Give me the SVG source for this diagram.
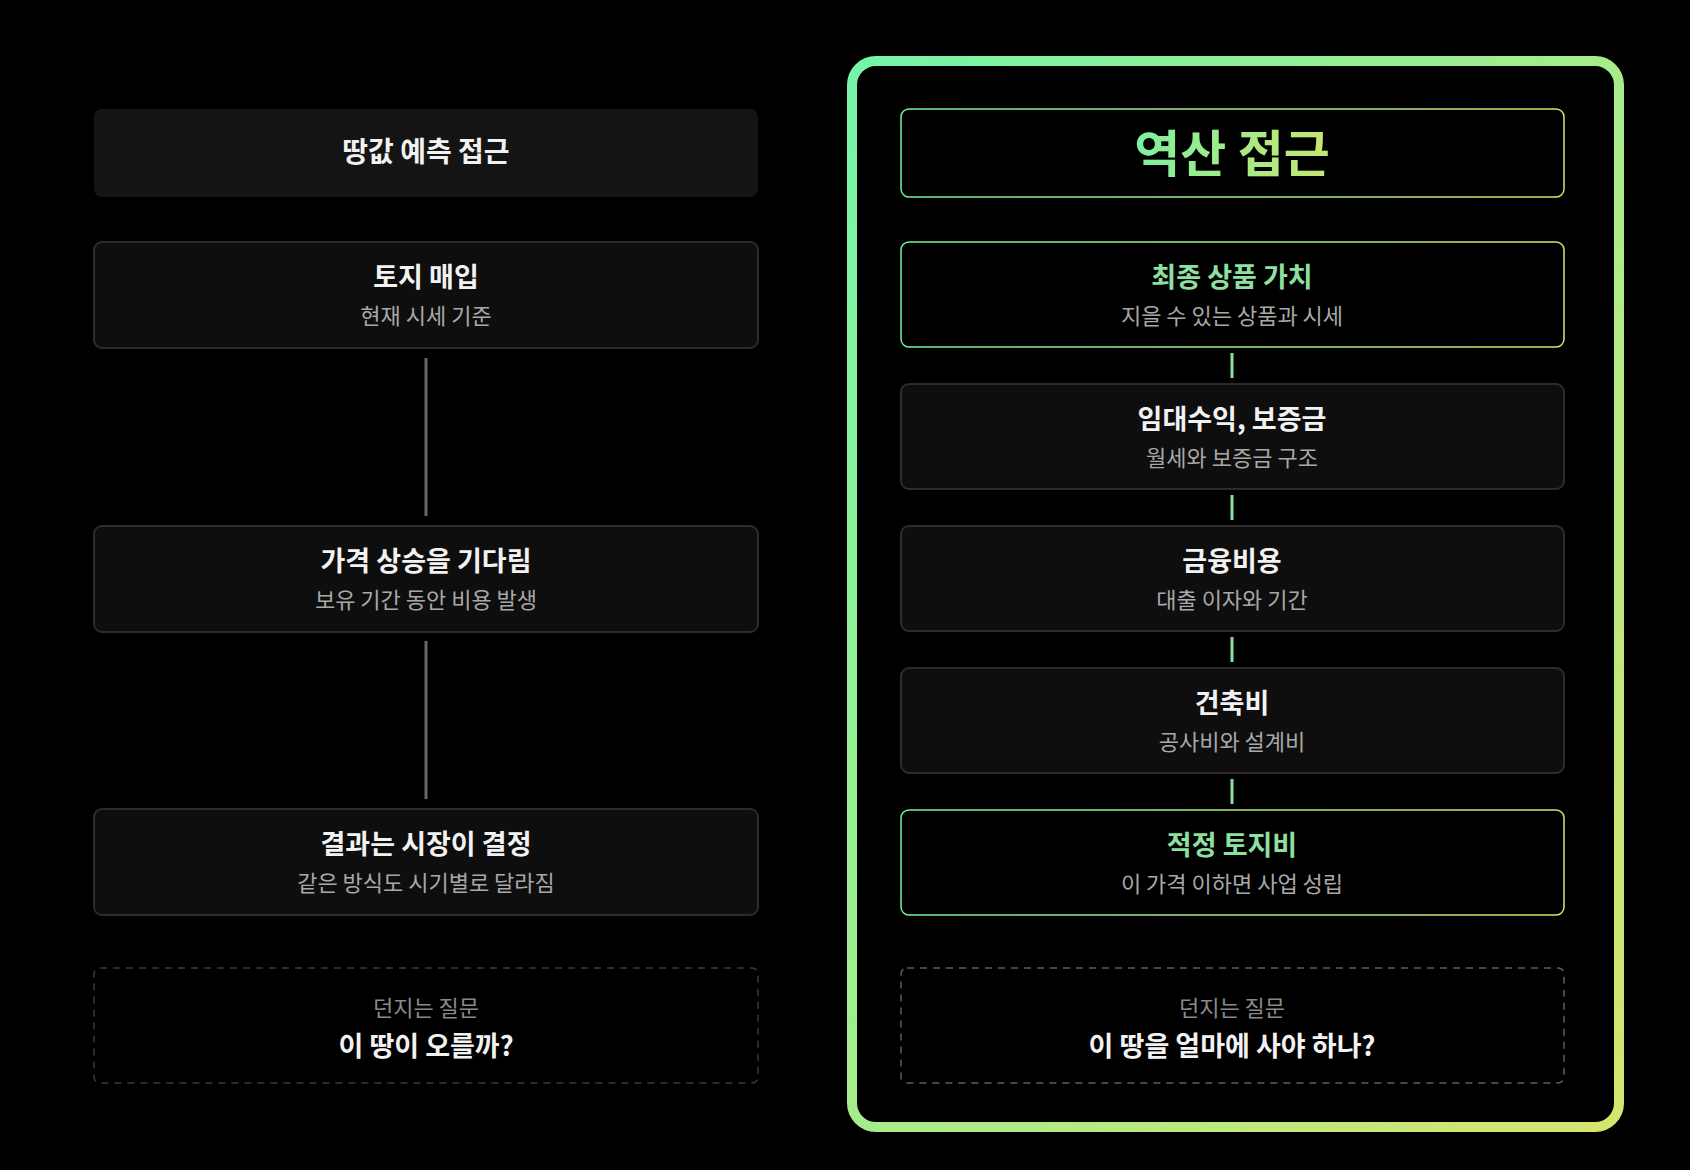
<svg xmlns="http://www.w3.org/2000/svg" width="1690" height="1170" viewBox="0 0 1690 1170">
<defs>
<linearGradient id="g" x1="0" y1="0" x2="1" y2="1"><stop offset="0" stop-color="#76f5a8"/><stop offset="1" stop-color="#d6e46e"/></linearGradient>
<linearGradient id="gh" x1="0" y1="0" x2="1" y2="0"><stop offset="0" stop-color="#76f0a0"/><stop offset="1" stop-color="#d6e46e"/></linearGradient>
<linearGradient id="gt" x1="0" y1="0" x2="1" y2="0"><stop offset="0" stop-color="#7ef0a0"/><stop offset="1" stop-color="#c8e670"/></linearGradient>
<style>
text{font-family:"Noto Sans CJK KR","Noto Sans",sans-serif;text-anchor:middle}
.n{fill:#0e0e0e;stroke:#2c2c2c;stroke-width:2}
.ng{fill:#000;stroke:url(#gh);stroke-width:1.5}
.t{font-size:27px;font-weight:700;fill:#f2f2f2}
.tg{font-size:27px;font-weight:700;fill:#8fe0a0}
.s{font-size:22px;fill:#a8a8a8}
.d{fill:none;stroke-width:1.5;stroke-dasharray:7 6}
</style>
</defs>
<rect width="1690" height="1170" fill="#000"/>
<rect x="852" y="61" width="767" height="1066" rx="24" fill="none" stroke="url(#g)" stroke-width="10"/>
<g id="connectors" stroke-width="3">
<line x1="426" y1="358" x2="426" y2="516" stroke="#666"/>
<line x1="426" y1="641" x2="426" y2="799" stroke="#666"/>
<line x1="1232" y1="353" x2="1232" y2="378" stroke="#8fe0a0"/>
<line x1="1232" y1="495" x2="1232" y2="520" stroke="#8fe0a0"/>
<line x1="1232" y1="637" x2="1232" y2="662" stroke="#8fe0a0"/>
<line x1="1232" y1="779" x2="1232" y2="804" stroke="#8fe0a0"/>
</g>
<g id="left-title"><rect x="94" y="109" width="664" height="88" rx="8" fill="#141414"/><text x="426" y="162" class="t" style="font-size:28px">땅값 예측 접근</text></g>
<g id="l1"><rect class="n" x="94" y="242" width="664" height="106" rx="8"/><text x="426" y="287" class="t">토지 매입</text><text x="426" y="324" class="s">현재 시세 기준</text></g>
<g id="l2"><rect class="n" x="94" y="526" width="664" height="106" rx="8"/><text x="426" y="571" class="t">가격 상승을 기다림</text><text x="426" y="608" class="s">보유 기간 동안 비용 발생</text></g>
<g id="l3"><rect class="n" x="94" y="809" width="664" height="106" rx="8"/><text x="426" y="854" class="t">결과는 시장이 결정</text><text x="426" y="891" class="s">같은 방식도 시기별로 달라짐</text></g>
<g id="lq"><rect class="d" stroke="#3a3a3a" x="94" y="968" width="664" height="115" rx="6"/><text x="426" y="1016" class="s" style="fill:#8a8a8a">던지는 질문</text><text x="426" y="1056" class="t">이 땅이 오를까?</text></g>
<g id="right-title"><rect class="ng" x="901" y="109" width="663" height="88" rx="8"/><text x="1232" y="172" style="font-size:50px;font-weight:700;fill:url(#gt)">역산 접근</text></g>
<g id="r1"><rect class="ng" x="901" y="242" width="663" height="105" rx="8"/><text x="1232" y="287" class="tg">최종 상품 가치</text><text x="1232" y="324" class="s">지을 수 있는 상품과 시세</text></g>
<g id="r2"><rect class="n" x="901" y="384" width="663" height="105" rx="8"/><text x="1232" y="429" class="t">임대수익, 보증금</text><text x="1232" y="466" class="s">월세와 보증금 구조</text></g>
<g id="r3"><rect class="n" x="901" y="526" width="663" height="105" rx="8"/><text x="1232" y="571" class="t">금융비용</text><text x="1232" y="608" class="s">대출 이자와 기간</text></g>
<g id="r4"><rect class="n" x="901" y="668" width="663" height="105" rx="8"/><text x="1232" y="713" class="t">건축비</text><text x="1232" y="750" class="s">공사비와 설계비</text></g>
<g id="r5"><rect class="ng" x="901" y="810" width="663" height="105" rx="8"/><text x="1232" y="855" class="tg">적정 토지비</text><text x="1232" y="892" class="s">이 가격 이하면 사업 성립</text></g>
<g id="rq"><rect class="d" stroke="#4a6a50" x="901" y="968" width="663" height="115" rx="6"/><text x="1232" y="1016" class="s" style="fill:#8a8a8a">던지는 질문</text><text x="1232" y="1056" class="t">이 땅을 얼마에 사야 하나?</text></g>
</svg>
